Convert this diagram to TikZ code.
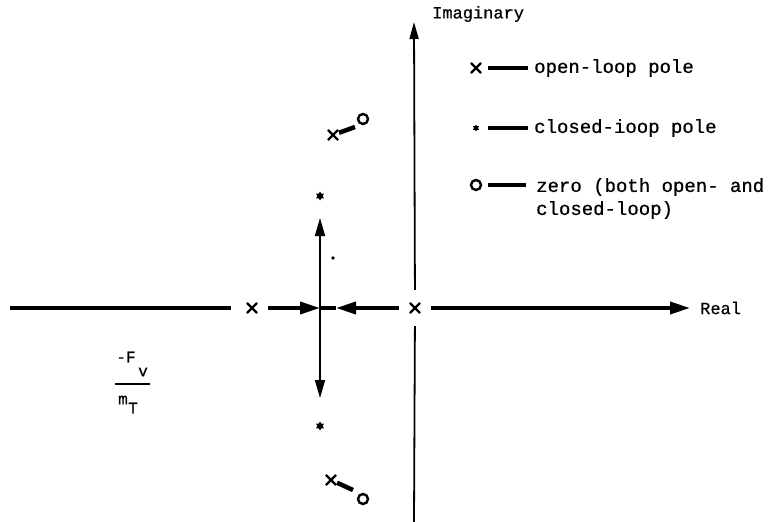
\documentclass[tikz,border=0pt]{standalone}
\usepackage{fontspec}
\newfontfamily\tw[FakeBold=0.7]{Liberation Mono}
\usetikzlibrary{arrows.meta,shapes.misc,shapes.geometric}
\begin{document}
\begin{tikzpicture}[x=1pt,y=-1pt,
  axlbl/.style={font=\tw\fontsize{17}{20}\selectfont, inner sep=0pt, anchor=west},
  legtxt/.style={font=\tw\fontsize{19}{23}\selectfont, inner sep=0pt, anchor=west},
  frac/.style={font=\tw\fontsize{16}{18}\selectfont, inner sep=0pt},
  olpole/.style={draw, cross out, minimum size=8pt, inner sep=0pt, line width=2.2pt},
  clpole/.style={star, star points=6, star point ratio=1.7, fill, minimum size=9pt, inner sep=0pt},
  zeromark/.style={draw, circle, minimum size=10pt, inner sep=0pt, line width=2.4pt},
  thickax/.style={line width=3.6pt},
  thinax/.style={line width=1.8pt},
  bigtip/.style={-{Triangle[length=20pt,width=12pt]}},
  legdash/.style={line width=3.4pt}
]
\useasboundingbox (0,0) rectangle (774,522);

% poles on the real axis
\node[olpole] (p1) at (252,308) {};
\node[olpole] (p2) at (415,308) {};
\coordinate (B) at (320,308);
\coordinate (L) at (10,308);
\coordinate (R) at (690,308);
\coordinate (tipL) at (336,308);

% imaginary axis
\coordinate (ibot) at (414,522);
\coordinate (itop) at (414,22);
\draw[thinax, shorten >=13pt] (ibot) -- (p2);
\draw[thinax, shorten <=13pt, -{Triangle[length=17pt,width=9pt]}] (p2) -- (itop);
\node[axlbl] (imlbl) at (432,14) {Imaginary};

% real axis
\draw[thickax, shorten >=16pt] (L) -- (p1);
\draw[thickax, shorten <=11pt, bigtip] (p1) -- (B);
\draw[line width=4pt] (B) -- (tipL);
\draw[thickax, shorten <=11pt, bigtip] (p2) -- (tipL);
\draw[thickax, shorten <=11pt, bigtip] (p2) -- (R);
\node[axlbl] (relbl) at (700,308) {Real};

% root locus branches along the vertical
\coordinate (up) at (320,218);
\coordinate (dn) at (320,398);
\draw[thinax, -{Triangle[length=18pt,width=10pt]}] (B) -- (up);
\draw[thinax, -{Triangle[length=18pt,width=10pt]}] (B) -- (dn);
\node[clpole] (c1) at (320,196) {};
\node[clpole] (c2) at (320,426) {};
\fill (333,258) circle (1.8pt);

% complex pole/zero pairs
\node[olpole] (p3) at (333,135) {};
\coordinate (s3) at (355,127);
\node[zeromark] (z3) at (363,119) {};
\draw[line width=4.5pt, shorten <=1pt] (p3) -- (s3);
\node[olpole] (p4) at (331,480) {};
\coordinate (s4) at (353,490);
\node[zeromark] (z4) at (363,499) {};
\draw[line width=4.5pt, shorten <=1pt] (p4) -- (s4);

% fraction -F_v / m_T
\node[frac] (fF) at (126,357) {-F};
\node[frac] (fv) at (143,372) {v};
\coordinate (fa) at (115,384);
\coordinate (fb) at (150,384);
\draw[line width=2.6pt] (fa) -- (fb);
\node[frac] (fm) at (123,400) {m};
\node[frac] (fT) at (133,408) {T};

% legend
\node[olpole] (l1) at (476,68) {};
\node[legtxt] (t1) at (534,68) {open-loop pole};
\draw[legdash, shorten <=12pt, shorten >=6pt] (l1.center) -- (t1.west);
\node[clpole, minimum size=7pt] (l2) at (476,128) {};
\node[legtxt] (t2) at (534,128) {closed-ioop pole};
\draw[legdash, shorten <=12pt, shorten >=6pt] (l2.center) -- (t2.west);
\node[zeromark] (l3) at (476,185) {};
\node[legtxt] (t3) at (536,187) {zero (both open- and};
\draw[legdash, shorten <=12pt, shorten >=10pt] (l3.center) -- (l3.center -| t3.west);
\node[legtxt] (t4) at (536,210) {closed-loop)};
\end{tikzpicture}
\end{document}
